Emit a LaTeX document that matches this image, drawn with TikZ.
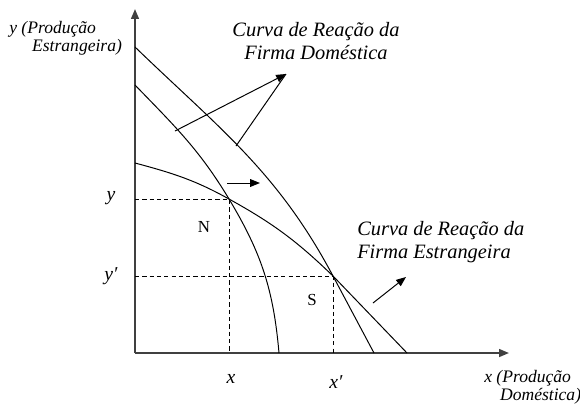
\documentclass[tikz,border=0pt]{standalone}
\usepackage{fontspec}
\setmainfont{Liberation Serif}
\usetikzlibrary{arrows.meta}

\begin{document}
\begin{tikzpicture}[x=0.025cm, y=-0.025cm,
    >={Triangle[length=7pt,width=5.5pt]},
    eixo/.style={line width=1.3pt, black!75, ->},
    curva/.style={line width=0.7pt},
    guia/.style={line width=0.7pt, dash pattern=on 3pt off 2.2pt},
    seta/.style={line width=0.7pt, ->},
    rotulo/.style={font=\fontsize{14.5}{16.3}\selectfont\itshape, inner sep=0pt},
    eixotxt/.style={font=\fontsize{12.5}{13}\selectfont\itshape, inner sep=0pt, align=left},
    valor/.style={font=\fontsize{14}{16}\selectfont\itshape, inner sep=0pt},
    letra/.style={font=\fontsize{12}{14}\selectfont, inner sep=0pt}]

\useasboundingbox (0,0) rectangle (580,403);

% ═══════════════════════════════════════════════
% EIXOS
% ═══════════════════════════════════════════════

\coordinate (O) at (135,353);
\coordinate (ytopo) at (135,9);
\coordinate (xfim) at (509,353);
\draw[eixo] (O) -- (ytopo);
\draw[eixo] (O) -- (xfim);

% ═══════════════════════════════════════════════
% PONTOS DE EQUILÍBRIO
% ═══════════════════════════════════════════════

\coordinate (N) at (229,199);
\coordinate (S) at (333,276);
\coordinate (yN) at (O |- N);
\coordinate (xN) at (O -| N);
\coordinate (yS) at (O |- S);
\coordinate (xS) at (O -| S);

% linhas de referência
\draw[guia] (yN) -- (N) -- (xN);
\draw[guia] (yS) -- (S) -- (xS);

% ═══════════════════════════════════════════════
% CURVAS DE REAÇÃO
% ═══════════════════════════════════════════════

% firma doméstica (antes)
\coordinate (d1a) at (135,85);
\coordinate (d1b) at (279,353);
\draw[curva] (d1a) to[out=-46, in=121] (N) to[out=-59, in=95] (d1b);

% firma doméstica (depois)
\coordinate (d2a) at (135,47);
\coordinate (d2b) at (374,353);
\draw[curva] (d2a) to[out=-44, in=118] (S) -- (d2b);

% firma estrangeira
\coordinate (fa) at (135,163);
\coordinate (fb) at (407,353);
\draw[curva] (fa) to[out=-15, in=151] (N) to[out=-29, in=136] (S) -- (fb);

% ═══════════════════════════════════════════════
% SETAS
% ═══════════════════════════════════════════════

\coordinate (pontaD) at (286,74);
\coordinate (d1s) at (175,131);
\coordinate (d2s) at (236,146);
\draw[seta] (d1s) -- (pontaD);
\draw[curva] (d2s) -- (pontaD);

% deslocamento
\coordinate (desl1) at (227,183);
\coordinate (desl2) at (260,183);
\draw[seta] (desl1) -- (desl2);

% firma estrangeira
\coordinate (e1) at (373,303);
\coordinate (e2) at (406,277);
\draw[seta] (e1) -- (e2);

% ═══════════════════════════════════════════════
% RÓTULOS
% ═══════════════════════════════════════════════

\node[rotulo, align=center] (rotD) at (316,41)
    {Curva de Reação da\\Firma Doméstica};
\node[rotulo, align=left, anchor=west] (rotE) at (357,242)
    {Curva de Reação da\\Firma Estrangeira};

\node[eixotxt, anchor=west] (rotY) at (9,38)
    {y (Produção\\\hspace*{1.3em}Estrangeira)};
\node[eixotxt, anchor=west] (rotX) at (484,387)
    {x (Produção\\\hspace*{0.9em}Doméstica)};

\node[valor] (vy) at (111,198) {y};
\node[valor] (vy2) at (111,276) {y′};
\node[valor] (vx) at (231,379) {x};
\node[valor] (vx2) at (336,382) {x′};

\node[letra] (lN) at (204,227) {N};
\node[letra] (lS) at (312,300) {S};

\end{tikzpicture}
\end{document}
